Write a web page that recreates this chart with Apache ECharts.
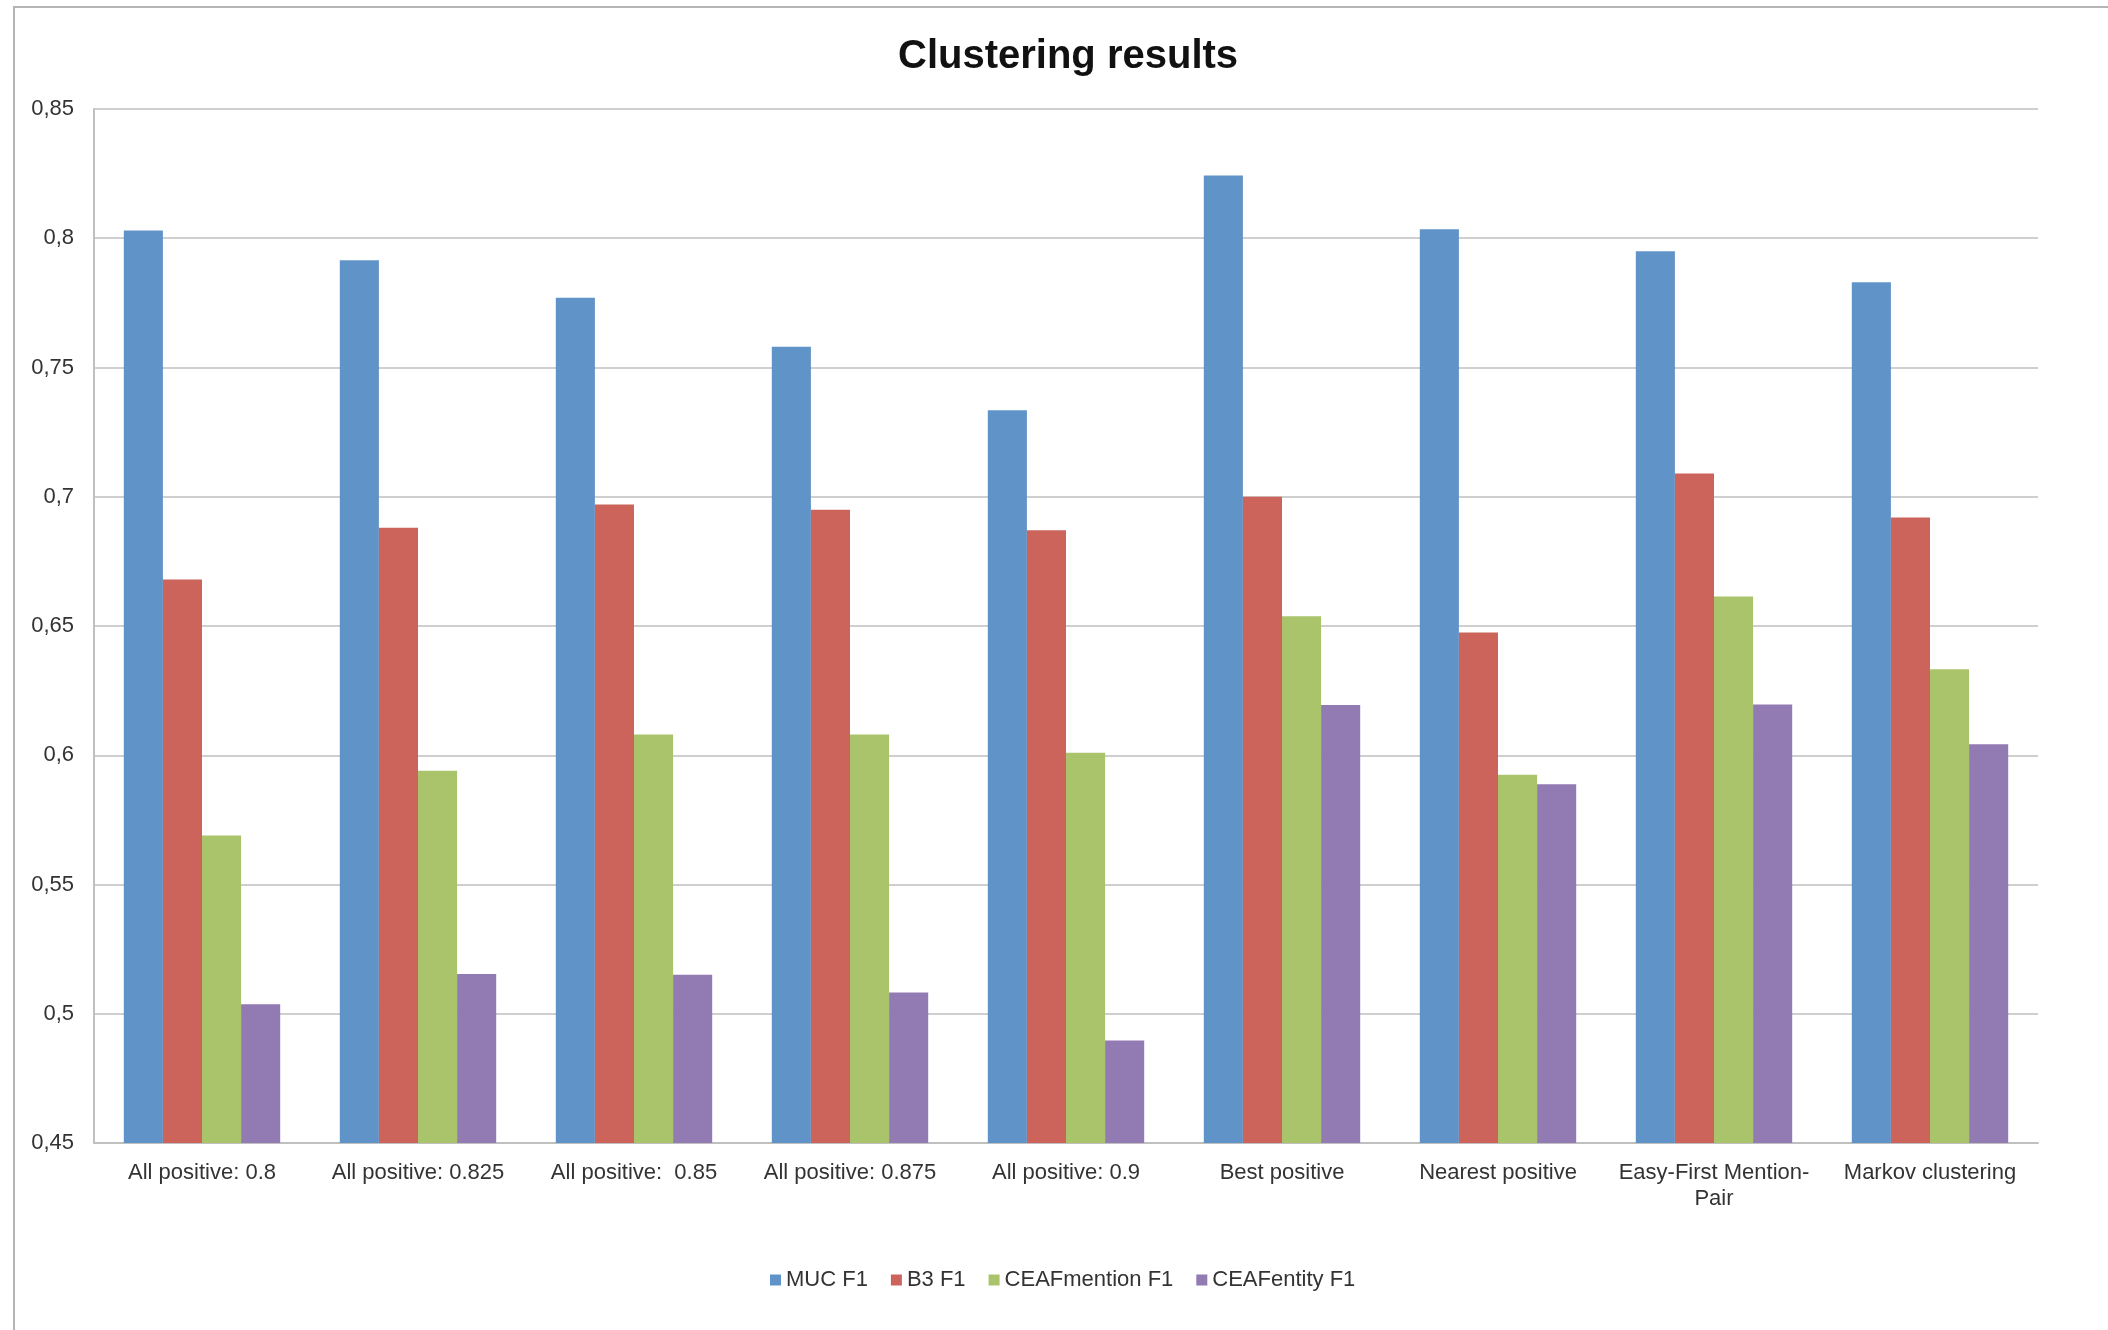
<!DOCTYPE html>
<html>
<head>
<meta charset="utf-8">
<script src="https://cdn.jsdelivr.net/npm/echarts@6/dist/echarts.min.js"></script>
<style>
html,body{margin:0;padding:0;background:#fff;}
#chart{width:2108px;height:1330px;}
</style>
</head>
<body>
<div id="chart"></div>
<script>
const categories = [
  "All positive: 0.8",
  "All positive: 0.825",
  "All positive:  0.85",
  "All positive: 0.875",
  "All positive: 0.9",
  "Best positive",
  "Nearest positive",
  "Easy-First Mention-\nPair",
  "Markov clustering"
];
const seriesNames = ["MUC F1", "B3 F1", "CEAFmention F1", "CEAFentity F1"];
const mucF1 = [0.803, 0.7915, 0.777, 0.758, 0.7335, 0.8243, 0.8035, 0.795, 0.783];
const b3F1 = [0.668, 0.688, 0.697, 0.695, 0.687, 0.700, 0.6475, 0.709, 0.692];
const ceafMentionF1 = [0.569, 0.594, 0.608, 0.608, 0.601, 0.6538, 0.5925, 0.6614, 0.6333];
const ceafEntityF1 = [0.5037, 0.5154, 0.5151, 0.5082, 0.4897, 0.6194, 0.5888, 0.6196, 0.6043];
const yTicks = { min: 0.45, max: 0.85, interval: 0.05 };
const colors = ["#6094C8", "#CC645C", "#AAC46C", "#927AB3"];

const values = [mucF1, b3F1, ceafMentionF1, ceafEntityF1];
const font = "'Liberation Sans', Arial, Helvetica, sans-serif";

const chart = echarts.init(document.getElementById('chart'), null, {renderer: 'canvas'});
chart.setOption({
  backgroundColor: '#ffffff',
  animation: false,
  color: colors,
  title: {
    text: 'Clustering results',
    left: 893,
    top: 32,
    textStyle: { fontFamily: font, fontSize: 40, fontWeight: 'bold', color: '#111' }
  },
  graphic: [{
    type: 'rect',
    shape: { x: 14, y: 7, width: 2300, height: 1500 },
    style: { fill: 'none', stroke: '#b4b4b4', lineWidth: 2 },
    silent: true
  }],
  legend: {
    data: seriesNames,
    left: 765,
    top: 1264,
    icon: 'rect',
    itemWidth: 11,
    itemHeight: 11,
    itemGap: 23,
    textStyle: { fontFamily: font, fontSize: 22, color: '#333' }
  },
  grid: { left: 94, right: 70, top: 109, bottom: 187, containLabel: false },
  xAxis: {
    type: 'category',
    data: categories,
    axisLine: { show: true, lineStyle: { color: '#c0c0c0', width: 2 } },
    axisTick: { show: false },
    axisLabel: {
      interval: 0,
      margin: 17,
      fontFamily: font,
      fontSize: 22,
      lineHeight: 26,
      color: '#333'
    }
  },
  yAxis: {
    type: 'value',
    min: yTicks.min,
    max: yTicks.max,
    interval: yTicks.interval,
    axisLine: { show: true, lineStyle: { color: '#c0c0c0', width: 2 } },
    axisTick: { show: false },
    splitLine: { show: true, lineStyle: { color: '#cfcfcf', width: 2 } },
    axisLabel: {
      margin: 20,
      fontFamily: font,
      fontSize: 22,
      color: '#333',
      formatter: v => String(+v.toFixed(2)).replace('.', ',')
    }
  },
  series: seriesNames.map((name, i) => ({
    name: name,
    type: 'bar',
    data: values[i],
    barGap: '0%',
    barCategoryGap: '27.6%',
    itemStyle: { color: colors[i] }
  }))
});
</script>
</body>
</html>
